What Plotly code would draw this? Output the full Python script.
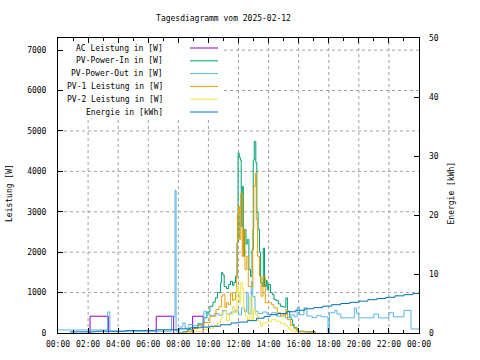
import plotly.graph_objects as go

# ---------------- data (hours of day, values) ----------------
ac_t = [2.13, 2.13, 3.35, 3.35, None, 6.53, 6.53, 7.69, 7.69, None, 8.95, 8.95, 9.65, 9.65]
ac_w = [0, 415, 415, 0, None, 0, 415, 415, 0, None, 0, 415, 415, 0]

pin_t = [8.0, 8.3, 8.6, 9.0, 9.3, 9.7, 9.9, 10.1, 10.3, 10.45, 10.6, 10.8, 10.88, 10.95,
         11.05, 11.2, 11.35, 11.47, 11.6, 11.69, 11.8, 11.9, 11.97, 12.05, 12.12, 12.18,
         12.25, 12.32, 12.4, 12.5, 12.58, 12.69, 12.8, 12.9, 12.98, 13.05, 13.15, 13.22,
         13.3, 13.4, 13.47, 13.58, 13.65, 13.73, 13.85, 13.91, 14.0, 14.13, 14.25, 14.36,
         14.5, 14.65, 14.8, 15.0, 15.15, 15.25, 15.4, 15.5, 15.6, 15.7, 15.9, 16.4, 17.1]
pin_w = [0, 30, 80, 135, 220, 375, 520, 660, 760, 870, 1000, 1240, 1500, 1440,
         1150, 1100, 1200, 1280, 1180, 1250, 1400, 2230, 4450, 4350, 4280, 2640,
         3630, 1900, 2560, 2200, 2310, 1570, 1400, 2060, 4280, 4740, 4220, 2980,
         2560, 2000, 1250, 1150, 2100, 1150, 1300, 1070, 1200, 1000, 950, 830,
         800, 720, 660, 640, 870, 540, 400, 330, 210, 130, 45, 30, 0]

pout_t = [0, 3.3, 3.45, 7.55, 7.78, 7.85, 8.1, 8.3, 8.45, 8.7, 9.0, 9.3, 9.6, 9.7, 9.85,
          10.1, 10.4, 10.7, 10.95, 11.2, 11.5, 11.8, 12.0, 12.2, 12.4, 12.55, 12.65, 12.85,
          12.95, 13.1, 13.3, 13.6, 13.9, 14.2, 14.5, 14.8, 15.1, 15.4, 15.7, 15.9, 16.05,
          16.35, 16.55, 16.9, 17.2, 17.5, 17.95, 18.05, 18.4, 18.55, 18.8, 19.7, 19.85,
          20.0, 21.0, 21.3, 22.0, 22.3, 23.0, 23.47, 24]
pout_w = [75, 520, 45, 400, 3530, 45, 150, 250, 120, 210, 180, 240, 200, 540, 470,
          430, 480, 440, 560, 470, 520, 560, 450, 620, 520, 1000, 480, 1270,
          900, 540, 480, 520, 460, 500, 420, 470, 380, 450, 400, 630, 450,
          620, 420, 380, 430, 400, 0, 500, 560, 470, 375, 620, 480,
          375, 470, 375, 500, 400, 560, 100, 100]

pv1_t = [8.3, 8.6, 9.0, 9.3, 9.7, 10.1, 10.5, 10.7, 10.88, 10.95, 11.1, 11.2, 11.35,
         11.47, 11.6, 11.69, 11.8, 11.88, 11.93, 12.0, 12.07, 12.15, 12.25, 12.32, 12.43,
         12.55, 12.65, 12.8, 12.95, 13.02, 13.12, 13.18, 13.27, 13.4, 13.5, 13.63, 13.78,
         14.0, 14.2, 14.35, 14.58, 14.8, 15.0, 15.15, 15.25, 15.47, 15.69, 15.9, 16.5, 17.1]
pv1_w = [0, 40, 110, 180, 260, 415, 580, 650, 910, 950, 630, 750, 700,
         990, 800, 830, 1000, 1400, 2970, 3130, 2310, 3460, 1900, 2560, 1570,
         1900, 1150, 1150, 2560, 3630, 3960, 2800, 1900, 1400, 910, 1400, 750,
         750, 700, 620, 500, 415, 450, 580, 330, 185, 100, 30, 20, 0]

pv2_t = [8.6, 9.0, 9.7, 10.0, 10.35, 10.6, 10.8, 10.9, 11.0, 11.2, 11.4, 11.6, 11.75,
         11.9, 12.0, 12.07, 12.15, 12.25, 12.35, 12.45, 12.6, 12.75, 12.9, 13.0, 13.15,
         13.3, 13.45, 13.6, 13.9, 14.2, 14.5, 14.8, 15.1, 15.3, 15.5, 15.8]
pv2_w = [0, 40, 85, 120, 170, 250, 330, 500, 540, 300, 450, 650, 500,
         1150, 950, 750, 1250, 1100, 600, 420, 330, 900, 330, 580, 450,
         300, 170, 250, 280, 330, 290, 230, 180, 100, 45, 0]

en_t = [0.8, 2.5, 4.5, 6.5, 8.0, 8.8, 9.5, 10.1, 10.8, 11.5, 12.0, 12.6, 13.2, 13.7,
        14.1, 14.6, 15.2, 15.8, 16.4, 17.0, 17.6, 18.2, 18.8, 19.4, 20.0, 20.6, 21.2,
        21.8, 22.4, 23.0, 23.6, 24.0]
en_kwh = [0.2, 0.3, 0.4, 0.55, 0.7, 0.88, 1.0, 1.15, 1.4, 1.7, 1.85, 2.1, 2.5, 2.8,
          3.1, 3.3, 3.6, 3.85, 4.1, 4.3, 4.55, 4.8, 5.0, 5.2, 5.4, 5.65, 5.85,
          6.05, 6.3, 6.5, 6.7, 6.8]

tick_vals = list(range(0, 25, 2))
tick_text = ["00:00", "02:00", "04:00", "06:00", "08:00", "10:00", "12:00",
             "14:00", "16:00", "18:00", "20:00", "22:00", "00:00"]
y_ticks = list(range(0, 7001, 1000))

names = ["AC Leistung in [W]", "PV-Power-In in [W]", "PV-Power-Out in [W]",
         "PV-1 Leistung in [W]", "PV-2 Leistung in [W]", "Energie in [kWh]"]
colors = ["#9400d3", "#009e73", "#56b4e9", "#e69f00", "#f0e442", "#0072b2"]
shapes = ["linear", "hv", "hv", "hv", "hv", "hv"]

X_MAX, Y_MAX, Y2_MAX = 24, 7300, 50

# ---------------- figure ----------------
FONT = "DejaVu Sans Mono"
W, H = 480, 360
ML, MR, MT, MB = 58, 61, 38, 27
PW, PH = W - ML - MR, H - MT - MB

def px_x(x):
    return (x - ML) / PW

def px_y(y):
    return (H - MB - y) / PH

fig = go.Figure()
series = [(ac_t, ac_w, "y"), (pin_t, pin_w, "y"), (pout_t, pout_w, "y"),
          (pv1_t, pv1_w, "y"), (pv2_t, pv2_w, "y"), (en_t, en_kwh, "y2")]
for (t, v, ax), name, col, shp in zip(series, names, colors, shapes):
    fig.add_trace(go.Scatter(x=t, y=v, mode="lines", name=name, yaxis=ax,
                             line=dict(color=col, width=1, shape=shp),
                             connectgaps=False, showlegend=False))

fig.update_layout(
    width=W, height=H,
    margin=dict(l=ML, r=MR, t=MT, b=MB, pad=0),
    paper_bgcolor="white", plot_bgcolor="white",
    font=dict(family=FONT, size=8, color="black"),
    title=dict(text="Tagesdiagramm vom 2025-02-12", x=223.5 / W, xanchor="center",
               y=1 - 18 / H, yanchor="middle", font=dict(family=FONT, size=8, color="black")),
    xaxis=dict(range=[0, X_MAX], tickvals=tick_vals, ticktext=tick_text, ticks="inside",
               ticklen=5, tickcolor="black", showline=True, linecolor="black", linewidth=1,
               mirror="ticks", zeroline=False, ticklabelstandoff=3, showgrid=False,
               minor=dict(dtick=1, tick0=0, ticks="inside", ticklen=3, tickcolor="black",
                          showgrid=False)),
    yaxis=dict(range=[0, Y_MAX], tickvals=y_ticks, ticks="inside", ticklen=5,
               tickcolor="black", showline=True, linecolor="black", linewidth=1,
               mirror=True, zeroline=False, ticklabelstandoff=9, showgrid=False),
    yaxis2=dict(range=[0, Y2_MAX], dtick=10, tick0=0, overlaying="y", side="right",
                ticks="inside", ticklen=5, tickcolor="black", showgrid=False,
                zeroline=False, showline=False, ticklabelstandoff=9),
)

# dashed grid that leaves the legend area free (like gnuplot's opaque key)
leg_right = px_x(224) * X_MAX
leg_bottom = px_y(118) * Y_MAX
leg_left = px_x(63) * X_MAX
grid_line = dict(color="#a0a0a0", width=1, dash="3px,3px")
for xv in tick_vals[1:-1]:
    top = leg_bottom if leg_left <= xv <= leg_right else Y_MAX
    fig.add_shape(type="line", xref="x", yref="y", x0=xv, x1=xv, y0=0, y1=top,
                  line=grid_line, layer="below")
for yv in y_ticks[1:]:
    start = leg_right if yv >= leg_bottom else 0
    fig.add_shape(type="line", xref="x", yref="y", x0=start, x1=X_MAX, y0=yv, y1=yv,
                  line=grid_line, layer="below")

# custom legend: right-aligned text, sample line on the right
for i, (name, col) in enumerate(zip(names, colors)):
    yy = 48 + i * 12.8
    fig.add_annotation(xref="paper", yref="paper", x=px_x(165), y=px_y(yy),
                       text=name, showarrow=False, xanchor="right", yanchor="middle",
                       font=dict(family=FONT, size=8, color="black"))
    fig.add_shape(type="line", xref="paper", yref="paper", x0=px_x(190), x1=px_x(218),
                  y0=px_y(yy), y1=px_y(yy), line=dict(color=col, width=1), layer="above")

# axis titles
fig.add_annotation(xref="paper", yref="paper", x=px_x(10), y=px_y(193), text="Leistung [W]",
                   textangle=-90, showarrow=False, xanchor="center", yanchor="middle",
                   font=dict(family=FONT, size=8, color="black"))
fig.add_annotation(xref="paper", yref="paper", x=px_x(451.5), y=px_y(193), text="Energie [kWh]",
                   textangle=-90, showarrow=False, xanchor="center", yanchor="middle",
                   font=dict(family=FONT, size=8, color="black"))

fig.write_html("out.html", config={"displayModeBar": False},
               post_script="document.body.style.margin='0';")
